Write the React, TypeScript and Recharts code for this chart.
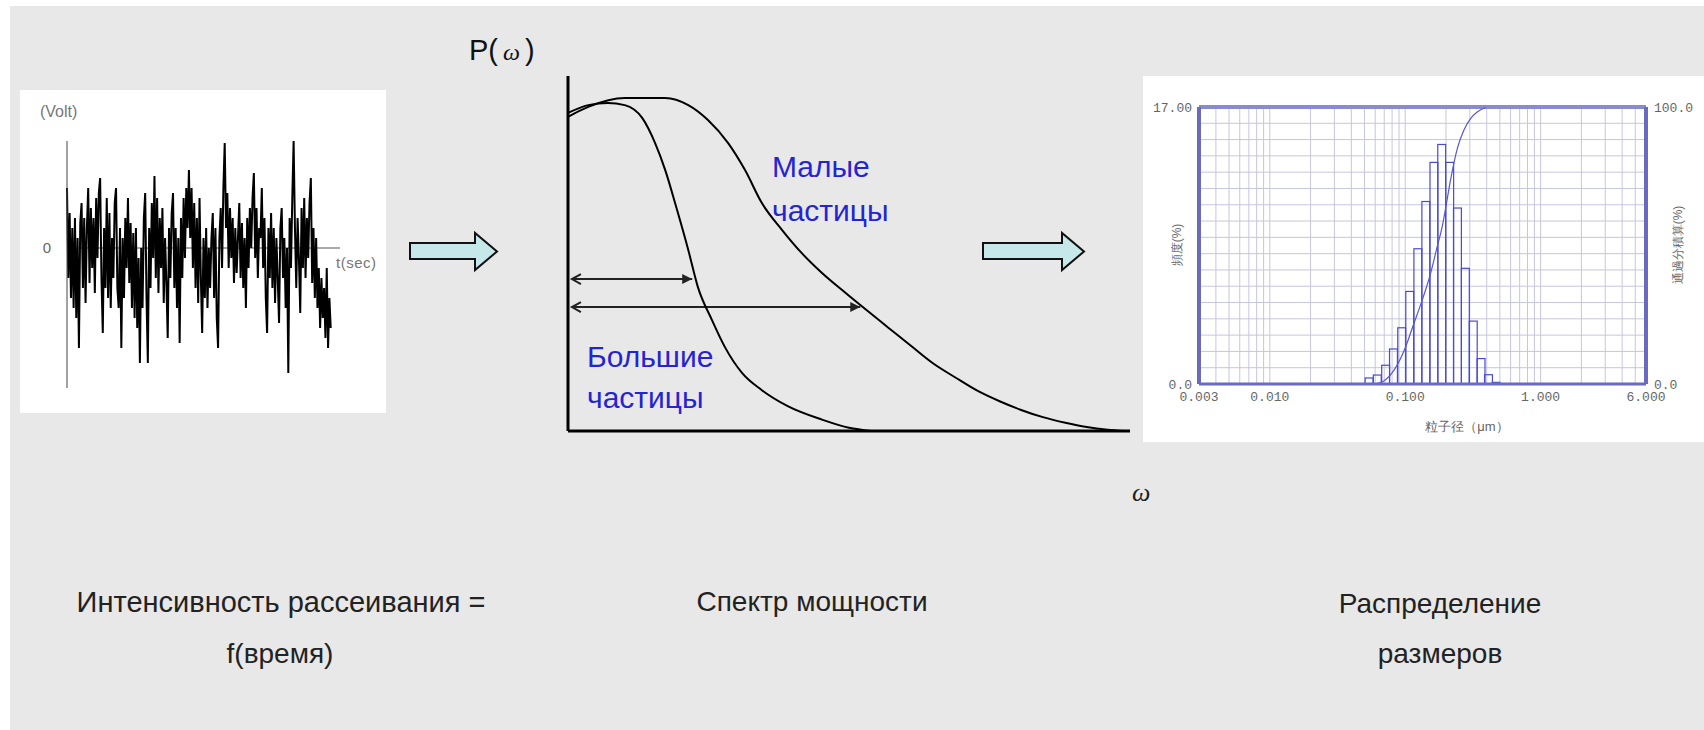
import React from 'react';
import {
  LineChart,
  Line,
  ComposedChart,
  Bar,
  XAxis,
  YAxis,
  CartesianGrid,
  ReferenceLine,
} from 'recharts';

// left panel: detector voltage vs time
const signalVolts = [
  0.6, -0.3, 0.35, -0.5, 0.2, -0.6, 0.3, -0.7, 0.1, -1.0, 0.25, 0.45, -0.4, 0.3, -0.55, 0.2, 0.6, -0.35, 0.4, -0.2,
  0.3, -0.45, 0.5, -0.1, 0.55, 0.7, -0.3, -0.85, 0.2, -0.4, 0.5, -0.5, 0.35, -0.6, 0.1, -0.3, 0.45, 0.6, -0.4, -0.6,
  0.2, -1.0, 0.1, -0.5, 0.3, -0.2, 0.5, -0.35, 0.25, -0.6, 0.15, -0.7, 0.2, -0.8, -0.1, -1.15, 0.0, -0.6, 0.3, 0.55,
  -0.5, -1.15, 0.2, -0.4, 0.45, -0.1, 0.72, -0.3, 0.5, -0.45, 0.3, -0.2, 0.4, -0.55, 0.1, -0.35, -0.9, 0.2, -0.3, 0.35,
  0.55, -0.4, 0.2, -0.6, 0.1, -0.95, 0.3, -0.3, 0.5, -0.1, 0.6, 0.2, 0.78, 0.1, 0.6, -0.2, 0.45, -0.4, 0.3, -0.55,
  0.5, -0.3, -0.85, 0.1, -0.5, 0.2, -0.6, 0.0, -0.4, 0.1, 0.35, -0.5, 0.2, -0.7, -1.0, 0.1, 0.4, -0.2, 0.6, 1.05,
  0.2, 0.55, -0.2, 0.4, -0.1, 0.3, -0.35, 0.2, -0.25, 0.1, 0.45, -0.3, 0.25, -0.4, 0.1, -0.6, 0.3, -0.2, 0.4, 0.0,
  0.5, 0.75, -0.1, 0.4, -0.3, 0.2, 0.1, 0.6, -0.2, 0.3, -0.5, -0.85, 0.2, -0.3, 0.35, -0.4, 0.2, -0.55, 0.1, -0.3,
  -0.75, 0.2, 0.4, -0.3, 0.1, -0.6, 0.0, -1.25, 0.3, -0.2, 0.5, 1.07, 0.2, -0.4, 0.3, -0.1, -0.65, 0.4, -0.2, 0.5,
  -0.3, 0.3, -0.1, 0.45, 0.7, -0.35, 0.2, -0.5, 0.1, -0.6, -0.2, -0.8, -0.3, -0.7, -0.4, -0.9, -0.2, -1.0, -0.5, -0.8,
];

// middle panel: power spectra P(w), small and large particles
const smallW = [0, 3.6, 10.1, 17.3, 21.4, 24.9, 28.5, 31.5, 34.5, 38.1, 41.6, 45.2, 49.3, 53, 57, 61.4, 65, 69, 73, 76.9, 80.5, 84.5, 88.5, 92.3, 96, 99];
const smallP = [88.5, 91.3, 93.8, 93.8, 91.8, 87.6, 81.1, 73.5, 64.2, 56.6, 50.1, 44.5, 39.0, 34.2, 29.1, 23.5, 19.0, 15.0, 11.2, 8.3, 6.0, 3.9, 2.3, 1.1, 0.35, 0];
const largeW = [0, 3.6, 7.1, 10.1, 13.2, 15.5, 17.3, 19.4, 21.4, 23.1, 25.6, 27.9, 31, 34.5, 39.1, 45.2, 50, 54];
const largeP = [89.6, 91.8, 92.4, 91.8, 88.2, 81.1, 73.5, 62.3, 51, 40.6, 31.3, 23.7, 16.3, 11.5, 7.0, 3.2, 0.9, 0];
const widthLevels = [42.8, 34.9];
const widthEnds = [22.1, 52];

// right panel: size distribution
const binDiam = [0.0541, 0.0622, 0.0717, 0.0819, 0.0942, 0.108, 0.124, 0.142, 0.163, 0.186, 0.213, 0.243, 0.278, 0.318, 0.363, 0.412, 0.469];
const binFreq = [0.37, 0.55, 1.15, 2.15, 3.45, 5.68, 8.3, 11.2, 13.6, 14.7, 13.6, 10.8, 7.1, 3.86, 1.56, 0.57, 0.1];
const cumDiam = [0.062, 0.069, 0.1, 0.1152, 0.1329, 0.1532, 0.1717, 0.187, 0.2013, 0.2157, 0.2282, 0.2441, 0.2705, 0.3035, 0.34, 0.392];
const cumPct = [0.2, 1.0, 13.0, 21.5, 30.0, 39.6, 49.3, 56.5, 65.0, 73.4, 79.5, 85.5, 91.5, 95.8, 98.2, 99.8];
const sizeGrid = [
  0.003, 0.004, 0.005, 0.006, 0.007, 0.008, 0.009,
  0.01, 0.02, 0.03, 0.04, 0.05, 0.06, 0.07, 0.08, 0.09,
  0.1, 0.2, 0.3, 0.4, 0.5, 0.6, 0.7, 0.8, 0.9,
  1, 2, 3, 4, 5, 6,
];
const sizeMajor = [0.003, 0.01, 0.1, 1, 6];
const sizeMajorLabels = ['0.003', '0.010', '0.100', '1.000', '6.000'];
const freqGrid = [0, 1, 2, 3, 4, 5, 6, 7, 8, 9, 10, 11, 12, 13, 14, 15, 16, 17];

const signalData = signalVolts.map((v, i) => ({ t: i, v }));
const smallData = smallW.map((w, i) => ({ w, p: smallP[i] }));
const largeData = largeW.map((w, i) => ({ w, p: largeP[i] }));
const binData = binDiam.map((d, i) => ({ d, f: binFreq[i] }));
const cumData = cumDiam.map((d, i) => ({ d, c: cumPct[i] }));

const SANS = '"Liberation Sans", Arial, sans-serif';
const MONO = '"Liberation Mono", "DejaVu Sans Mono", monospace';
const FRAME = '#6a6ac0';
const BIN_PX = 7.9; // one log bin on this axis

const DoubleArrow = (props: any) => {
  const { x1, y1, x2, y2 } = props;
  return (
    <g>
      <line x1={x1} y1={y1} x2={x2} y2={y2} stroke="#222" strokeWidth={2} />
      <polyline points={`${x1 + 9},${y1 - 5} ${x1},${y1} ${x1 + 9},${y1 + 5}`} fill="none" stroke="#222" strokeWidth={2} />
      <polygon points={`${x2},${y2} ${x2 - 10},${y2 - 5} ${x2 - 10},${y2 + 5}`} fill="#222" />
    </g>
  );
};

// outline bar, centred on the bin's diameter
const HistBar = (props: any) => {
  const { x, y, width, height } = props;
  if (!height || height <= 0) return <g />;
  const cx = x + width / 2;
  return (
    <rect x={cx - BIN_PX / 2} y={y} width={BIN_PX} height={height} fill="none" stroke="#4a4ad0" strokeWidth={1.2} />
  );
};

const BigArrow = ({ left, len }: { left: number; len: number }) => (
  <svg style={{ position: 'absolute', left, top: 228 }} width={len + 10} height={48}>
    <polygon
      points={`5,15 ${len - 17},15 ${len - 17},5 ${len + 5},23.5 ${len - 17},42 ${len - 17},31 5,31`}
      fill="#c6e8ea"
      stroke="#111"
      strokeWidth={2}
    />
  </svg>
);

const txt = (extra: React.CSSProperties): React.CSSProperties => ({
  position: 'absolute',
  fontFamily: SANS,
  whiteSpace: 'nowrap',
  ...extra,
});

export default function App() {
  return (
    <div style={{ position: 'absolute', left: 0, top: 0, width: 1704, height: 730, background: '#fff', overflow: 'hidden' }}>
      <div style={{ position: 'absolute', left: 10, top: 6, width: 1694, height: 724, background: '#e8e8e8' }} />

      {/* left panel */}
      <div style={{ position: 'absolute', left: 20, top: 90, width: 366, height: 323, background: '#fff' }}>
        <LineChart width={366} height={323} data={signalData} margin={{ top: 51, right: 46, bottom: 25, left: 17 }}>
          <XAxis dataKey="t" type="number" domain={[0, 206]} hide />
          <YAxis
            domain={[-1.4, 1.07]}
            ticks={[0]}
            width={30}
            tickLine={false}
            tickMargin={10}
            axisLine={{ stroke: '#444', strokeWidth: 1 }}
            tick={{ fontSize: 15, fill: '#666', fontFamily: SANS }}
          />
          <ReferenceLine y={0} stroke="#555" strokeWidth={1} />
          <Line dataKey="v" stroke="#000" strokeWidth={2} dot={false} isAnimationActive={false} />
        </LineChart>
      </div>
      <div style={txt({ left: 40, top: 103, fontSize: 16, color: '#777' })}>(Volt)</div>
      <div style={txt({ left: 336, top: 254, fontSize: 15, letterSpacing: 0.5, color: '#777' })}>t(sec)</div>

      <BigArrow left={405} len={87} />

      {/* middle panel */}
      <div style={txt({ left: 469, top: 33, fontSize: 29, lineHeight: '34px', color: '#111' })}>
        P(<span style={{ fontFamily: '"Liberation Serif", serif', fontStyle: 'italic', fontSize: 24, padding: '0 5px' }}>ω</span>)
      </div>
      <div style={{ position: 'absolute', left: 520, top: 60 }}>
        <LineChart width={640} height={400} margin={{ top: 16, right: 30, bottom: 27, left: 47 }}>
          <XAxis
            dataKey="w"
            type="number"
            domain={[0, 100]}
            height={2}
            tick={false}
            tickLine={false}
            axisLine={{ stroke: '#000', strokeWidth: 3 }}
          />
          <YAxis
            domain={[0, 100]}
            width={1}
            tick={false}
            tickLine={false}
            axisLine={{ stroke: '#000', strokeWidth: 3 }}
          />
          {widthLevels.map((lv, i) => (
            <ReferenceLine
              key={i}
              segment={[{ x: 0.7, y: lv }, { x: widthEnds[i], y: lv }]}
              shape={DoubleArrow}
            />
          ))}
          <Line data={smallData} dataKey="p" type="monotone" stroke="#000" strokeWidth={2} dot={false} isAnimationActive={false} />
          <Line data={largeData} dataKey="p" type="monotone" stroke="#000" strokeWidth={2} dot={false} isAnimationActive={false} />
        </LineChart>
      </div>
      <div style={txt({ left: 772, top: 150, fontSize: 30, lineHeight: '34px', color: '#2424d2' })}>Малые</div>
      <div style={txt({ left: 772, top: 194, fontSize: 30, lineHeight: '34px', color: '#2424d2' })}>частицы</div>
      <div style={txt({ left: 587, top: 340, fontSize: 30, lineHeight: '34px', color: '#2424d2' })}>Большие</div>
      <div style={txt({ left: 587, top: 381, fontSize: 30, lineHeight: '34px', color: '#2424d2' })}>частицы</div>
      <div style={txt({ left: 1132, top: 478, fontSize: 26, fontFamily: '"Liberation Serif", serif', fontStyle: 'italic', color: '#222' })}>ω</div>

      <BigArrow left={978} len={101} />

      {/* right panel */}
      <div style={{ position: 'absolute', left: 1143, top: 76, width: 561, height: 366, background: '#fff' }}>
        <ComposedChart
          width={561}
          height={366}
          data={binData}
          margin={{ top: 31, right: 8, bottom: 28, left: 16 }}
          barCategoryGap={0}
          barGap={0}
        >
          <CartesianGrid yAxisId="left" stroke="#c6c6dc" strokeWidth={1} />
          <XAxis
            dataKey="d"
            type="number"
            scale="log"
            domain={[0.003, 6]}
            ticks={sizeGrid}
            interval={0}
            allowDataOverflow
            height={30}
            tickLine={false}
            tickMargin={2}
            tickFormatter={(v: number) => {
              const k = sizeMajor.findIndex((m) => Math.abs(m - v) < 1e-9);
              return k >= 0 ? sizeMajorLabels[k] : '';
            }}
            axisLine={{ stroke: FRAME, strokeWidth: 3 }}
            tick={{ fontSize: 13, fill: '#666', fontFamily: MONO }}
          />
          <YAxis
            yAxisId="left"
            domain={[0, 17]}
            ticks={freqGrid}
            interval={0}
            width={40}
            tickLine={false}
            tickMargin={1}
            tickFormatter={(v: number) => (v === 17 ? '17.00' : v === 0 ? '0.0' : '')}
            axisLine={{ stroke: FRAME, strokeWidth: 4 }}
            tick={{ fontSize: 13, fill: '#666', fontFamily: MONO }}
          />
          <YAxis
            yAxisId="right"
            orientation="right"
            domain={[0, 100]}
            ticks={[0, 100]}
            width={50}
            tickLine={false}
            tickMargin={2}
            tickFormatter={(v: number) => (v === 100 ? '100.0' : '0.0')}
            axisLine={{ stroke: FRAME, strokeWidth: 4 }}
            tick={{ fontSize: 13, fill: '#666', fontFamily: MONO }}
          />
          <ReferenceLine yAxisId="left" y={17} stroke="#8a8ad0" strokeWidth={4} />
          <Bar yAxisId="left" dataKey="f" shape={HistBar} isAnimationActive={false} />
          <Line
            yAxisId="right"
            data={cumData}
            dataKey="c"
            type="monotone"
            stroke="#5656d6"
            strokeWidth={1.2}
            dot={false}
            isAnimationActive={false}
          />
        </ComposedChart>
      </div>
      <div style={txt({ left: 1177, top: 245, fontSize: 12, color: '#666', transform: 'translate(-50%, -50%) rotate(-90deg)' })}>頻度(%)</div>
      <div style={txt({ left: 1678, top: 245, fontSize: 12, color: '#666', transform: 'translate(-50%, -50%) rotate(-90deg)' })}>通過分積算(%)</div>
      <div style={txt({ left: 1467, top: 427, fontSize: 13, color: '#666', transform: 'translate(-50%, -50%)' })}>粒子径（μm）</div>

      {/* captions */}
      <div style={txt({ left: 281, top: 586, fontSize: 29, lineHeight: '32px', color: '#222', transform: 'translateX(-50%)' })}>Интенсивность рассеивания =</div>
      <div style={txt({ left: 280, top: 638, fontSize: 28, lineHeight: '32px', color: '#222', transform: 'translateX(-50%)' })}>f(время)</div>
      <div style={txt({ left: 812, top: 586, fontSize: 28, lineHeight: '32px', color: '#222', transform: 'translateX(-50%)' })}>Спектр мощности</div>
      <div style={txt({ left: 1440, top: 588, fontSize: 28, lineHeight: '32px', color: '#222', transform: 'translateX(-50%)' })}>Распределение</div>
      <div style={txt({ left: 1440, top: 638, fontSize: 28, lineHeight: '32px', color: '#222', transform: 'translateX(-50%)' })}>размеров</div>
    </div>
  );
}
